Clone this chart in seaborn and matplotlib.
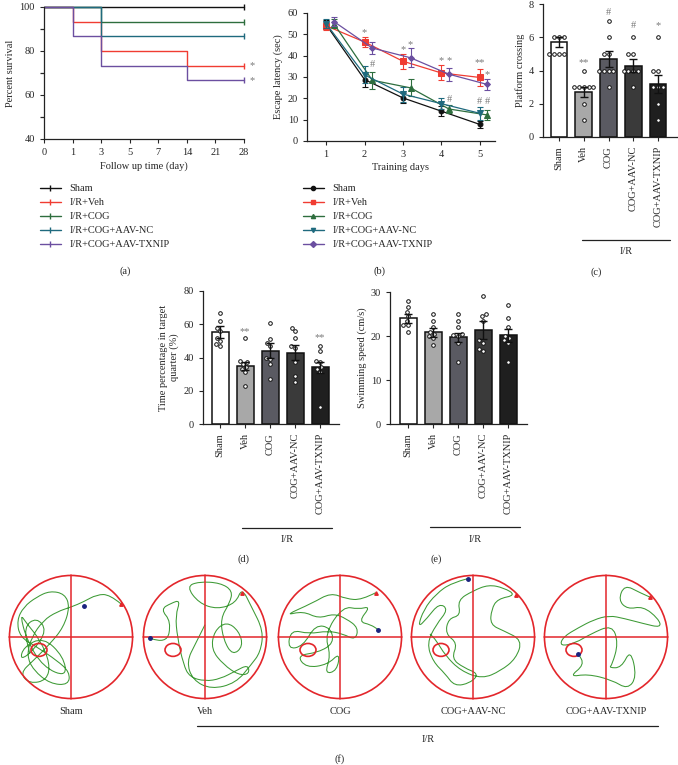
import numpy as np
import pandas as pd
import matplotlib
matplotlib.use("Agg")
import matplotlib.pyplot as plt
from matplotlib.lines import Line2D
from matplotlib.patches import Circle, Ellipse, PathPatch
from matplotlib.path import Path
import seaborn as sns

# ---------------- data ----------------
groups_long = ['Sham', 'I/R+Veh', 'I/R+COG', 'I/R+COG+AAV-NC', 'I/R+COG+AAV-TXNIP']
groups = ['Sham', 'Veh', 'COG', 'COG+AAV-NC', 'COG+AAV-TXNIP']
line_colors = ['#111111', '#f03c32', '#2e6e3e', '#1f6a7e', '#6b4fa0']
bar_colors = ['#ffffff', '#a8a8a8', '#595963', '#3a3a3a', '#1f1f1f']

# (a) survival
day_ticks = [0, 1, 3, 5, 7, 14, 21, 28]
surv_days = [[0, 28], [0, 1, 3, 14, 28], [0, 3, 28], [0, 3, 28], [0, 1, 3, 14, 28]]
surv_vals = [[100, 100], [100, 93.3, 80, 73.3, 73.3], [100, 93.3, 93.3],
             [100, 86.7, 86.7], [100, 86.7, 73.3, 66.7, 66.7]]

# (b) escape latency
train_days = [1, 2, 3, 4, 5]
day_shift = [0, 0, 0.2, 0, 0.2]
latency = [[54.5, 28.8, 20.2, 14.0, 7.8],
           [54.0, 46.4, 37.4, 31.9, 29.8],
           [55.0, 28.5, 24.9, 15.0, 12.2],
           [55.0, 31.0, 22.0, 17.5, 13.0],
           [56.0, 43.6, 39.0, 31.3, 26.5]]
latency_sem = [[2.0, 3.5, 2.5, 2.5, 1.5],
               [2.0, 2.5, 3.5, 3.5, 4.0],
               [2.0, 4.0, 4.0, 2.0, 2.5],
               [2.0, 4.0, 3.5, 2.5, 3.0],
               [2.0, 3.0, 4.5, 3.0, 2.5]]
latency_marks = [(2, 50.6, '*'), (2.2, 35.8, '#'), (3, 42.8, '*'), (3.2, 45, '*'),
                 (4, 37.8, '*'), (4.2, 37.5, '*'), (4.2, 19.5, '#'),
                 (5, 36.8, '**'), (5.2, 31.3, '*'), (5, 18.7, '#'), (5.2, 18.7, '#')]

# (c) platform crossing
cross_mean = [5.7, 2.7, 4.7, 4.3, 3.2]
cross_sem = [0.3, 0.3, 0.5, 0.4, 0.55]
cross_pts = [[6, 6, 6, 5, 5, 5, 5],
             [4, 3, 3, 3, 3, 3, 2, 1],
             [7, 6, 5, 5, 4, 4, 4, 4, 3],
             [6, 5, 5, 4, 4, 4, 4, 3],
             [6, 4, 4, 3, 3, 3, 2, 1]]
cross_marks = ['', '**', '#', '#', '*']
cross_mark_y = [0, 4.5, 7.5, 6.7, 6.7]

# (d) time in target quarter
quarter_mean = [55.5, 35.0, 44.0, 43.0, 34.0]
quarter_sem = [3.5, 2.5, 4.5, 4.5, 3.5]
quarter_pts = [[67, 62, 58, 56, 52, 50, 48, 47],
               [52, 38, 37, 36, 34, 33, 31, 23],
               [61, 51, 49, 47, 40, 39, 36, 27],
               [58, 56, 52, 47, 46, 37, 29, 25],
               [47, 44, 38, 37, 34, 33, 31, 10]]
quarter_marks = ['', '**', '', '', '**']
quarter_mark_y = [0, 55.8, 0, 0, 51.8]

# (e) swimming speed
speed_mean = [24.0, 20.8, 19.7, 21.4, 20.2]
speed_sem = [1.0, 1.0, 1.0, 2.0, 1.5]
speed_pts = [[28, 26.5, 25.5, 24.5, 23.5, 22.5, 22.5, 21],
             [25, 23.5, 22, 21, 20.5, 20, 19.5, 18],
             [25, 23.5, 22, 20.5, 20.3, 20, 18.5, 14],
             [29, 25, 24.5, 23.5, 19, 18.5, 17, 16.5],
             [27, 24, 22, 20, 19.5, 19, 18.5, 14]]

# (f) swim paths (normalised to pool radius)
path_sham = [(0.81, 0.54), (0.63, 0.69), (0.42, 0.69), (0.2, 0.57), (0.01, 0.49), (-0.23, 0.41),
             (-0.45, 0.27), (-0.64, 0), (-0.72, -0.3), (-0.61, -0.54), (-0.34, -0.76), (-0.04, -0.78),
             (-0.02, -0.57), (-0.23, -0.38), (-0.56, -0.16), (-0.83, 0), (-0.88, 0.27), (-0.77, 0.49),
             (-0.56, 0.65), (-0.34, 0.75), (-0.1, 0.7), (-0.02, 0.49), (-0.12, 0.16), (-0.34, -0.11),
             (-0.61, -0.38), (-0.83, -0.59), (-0.67, -0.76), (-0.39, -0.7), (-0.34, -0.43), (-0.5, -0.05),
             (-0.72, 0.22), (-0.83, 0.38), (-0.72, -0.05), (-0.45, -0.49), (-0.07, -0.65), (-0.12, -0.32),
             (-0.45, 0), (-0.77, -0.16), (-0.83, -0.38), (-0.61, -0.22), (-0.39, 0.11), (-0.56, 0.32),
             (-0.77, 0.16), (-0.67, -0.27)]
path_veh = [(-0.89, -0.02), (-0.62, -0.12), (-0.55, 0.25), (-0.72, 0.45), (-0.55, 0.55), (-0.4, 0.6),
            (-0.48, 0.35), (-0.45, 0.0), (-0.35, -0.45), (-0.25, -0.65), (0.0, -0.72), (0.25, -0.68),
            (0.5, -0.55), (0.7, -0.45), (0.72, -0.6), (0.55, -0.62), (0.3, -0.45), (0.1, -0.2),
            (0.15, 0.1), (0.35, 0.25), (0.55, 0.1), (0.62, -0.15), (0.45, -0.3), (0.3, -0.05),
            (0.25, 0.3), (0.4, 0.55), (0.45, 0.75), (0.25, 0.88), (-0.1, 0.9), (-0.3, 0.82),
            (-0.1, 0.55), (0.2, 0.45), (0.5, 0.55), (0.6, 0.8), (0.75, 0.5), (0.95, 0.1),
            (0.9, -0.25), (0.75, -0.45), (0.5, -0.75), (0.1, -0.85), (-0.2, -0.7), (-0.3, -0.4),
            (-0.15, -0.1), (0.0, 0.2)]
path_cog = [(0.58, 0.72), (0.35, 0.6), (0.1, 0.62), (-0.15, 0.72), (-0.45, 0.55), (-0.9, 0.35),
            (-0.6, 0.42), (-0.35, 0.3), (-0.1, 0.38), (0.1, 0.3), (0.3, 0.15), (0.25, -0.05),
            (0.05, 0.05), (-0.2, 0.1), (-0.5, 0.05), (-0.8, 0.12), (-0.85, -0.2), (-0.6, -0.15),
            (-0.4, 0.2), (-0.15, 0.15), (-0.1, -0.1), (-0.35, -0.25), (-0.7, -0.3), (-0.55, -0.5),
            (-0.2, -0.45), (0.0, -0.25), (-0.05, -0.55), (-0.25, -0.6), (-0.15, -0.3), (-0.25, 0.05),
            (0.05, 0.5), (0.3, 0.45), (0.5, 0.5), (0.3, 0.25), (0.5, 0.2), (0.62, 0.12)]
path_nc = [(-0.08, 0.95), (-0.35, 0.88), (-0.6, 0.7), (-0.8, 0.45), (-0.9, 0.15), (-0.75, 0.3),
           (-0.55, 0.55), (-0.4, 0.45), (-0.6, 0.2), (-0.75, -0.1), (-0.65, -0.4), (-0.45, -0.6),
           (-0.3, -0.8), (-0.05, -0.75), (0.1, -0.6), (-0.15, -0.5), (-0.35, -0.35), (-0.25, -0.1),
           (-0.45, 0.05), (-0.4, 0.3), (-0.2, 0.35), (-0.25, 0.6), (0.0, 0.75), (0.25, 0.85),
           (0.5, 0.8), (0.7, 0.68), (0.4, 0.62), (0.3, 0.45), (0.28, 0.2), (0.5, 0.1),
           (0.8, -0.05), (0.7, -0.35), (0.45, -0.55), (0.15, -0.68), (-0.2, -0.55), (-0.45, -0.3),
           (-0.6, -0.05), (-0.7, 0.05)]
path_txnip = [(0.71, 0.65), (0.55, 0.72), (0.3, 0.85), (0.2, 0.6), (0.35, 0.45), (0.6, 0.5),
              (0.85, 0.3), (0.9, 0.15), (0.6, 0.22), (0.3, 0.3), (0.05, 0.35), (-0.2, 0.28),
              (-0.45, 0.15), (-0.7, 0.0), (-0.75, -0.15), (-0.5, -0.1), (-0.25, 0.05), (0.1, 0.2),
              (0.2, -0.1), (0.1, -0.45), (0.05, -0.5), (0.25, -0.5), (0.4, -0.2), (0.5, -0.65),
              (0.35, -0.85), (0.1, -0.7), (-0.3, -0.6), (-0.6, -0.65), (-0.35, -0.45), (-0.45, -0.27)]
paths = [path_sham, path_veh, path_cog, path_nc, path_txnip]
blue_dots = [(0.21, 0.5), (-0.89, -0.02), (0.62, 0.12), (-0.08, 0.95), (-0.45, -0.27)]
red_marks = [(0.81, 0.54), (0.6, 0.72), (0.58, 0.72), (0.7, 0.68), (0.71, 0.65)]

# ---------------- style ----------------
sns.set_style('ticks')
plt.rcParams['font.family'] = ['Liberation Serif', 'DejaVu Serif']
plt.rcParams['font.size'] = 7.5
plt.rcParams['axes.linewidth'] = 0.9
plt.rcParams['axes.edgecolor'] = '#222222'
plt.rcParams['xtick.major.size'] = 3
plt.rcParams['ytick.major.size'] = 3
plt.rcParams['xtick.labelsize'] = 7.5
plt.rcParams['ytick.labelsize'] = 7.5

W, H = 678, 765
fig = plt.figure(figsize=(W / 100, H / 100), dpi=100)
mark_gray = '#7a7a7a'


def add_ax(left, top, right, bottom):
    return fig.add_axes([left / W, 1 - bottom / H, (right - left) / W, (bottom - top) / H])


def fig_text(x, y, s, **kw):
    fig.text(x / W, 1 - y / H, s, ha='center', va='center', **kw)


def fig_hline(x0, x1, y):
    fig.add_artist(Line2D([x0 / W, x1 / W], [1 - y / H, 1 - y / H], transform=fig.transFigure,
                          color='#222222', lw=0.9))


def smooth_path(pts):
    # waypoints used as quadratic bezier control points, curve passes through midpoints
    verts = [pts[0]]
    codes = [Path.MOVETO]
    for i in range(1, len(pts) - 1):
        mid = ((pts[i][0] + pts[i + 1][0]) / 2, (pts[i][1] + pts[i + 1][1]) / 2)
        verts += [pts[i], mid]
        codes += [Path.CURVE3, Path.CURVE3]
    verts.append(pts[-1])
    codes.append(Path.LINETO)
    return Path(verts, codes)


# ---------------- (a) ----------------
ax = add_ax(44, 7, 244, 139)
for name, days, vals, c in zip(groups_long, surv_days, surv_vals, line_colors):
    xs = [day_ticks.index(d) for d in days]
    sns.lineplot(x=xs, y=vals, drawstyle='steps-post', color=c, lw=1.0, ax=ax,
                 estimator=None, sort=False, clip_on=False)
    ax.plot([7], [vals[-1]], marker='|', color=c, markersize=5, clip_on=False)
ax.set_xlim(0, 7)
ax.set_ylim(40, 100)
ax.set_xticks(range(len(day_ticks)))
ax.set_xticklabels(day_ticks)
ax.set_yticks([40, 60, 80, 100])
ax.set_yticks([50, 70, 90], minor=True)
ax.tick_params(which='minor', length=3, width=0.9)
ax.set_xlabel('Follow up time (day)', labelpad=3)
ax.set_ylabel('Percent survival', labelpad=3)
ax.text(7.2, 73.3, '*', color=mark_gray, ha='left', va='center')
ax.text(7.2, 66.7, '*', color=mark_gray, ha='left', va='center')
sns.despine(ax=ax)
handles = [Line2D([], [], color=c, lw=1.0, marker='|', markersize=4) for c in line_colors]
fig.legend(handles, groups_long, loc='upper left', bbox_to_anchor=(40 / W, 1 - 184 / H),
           frameon=False, handlelength=2.0, handletextpad=0.8, labelspacing=0.45,
           borderpad=0, borderaxespad=0, fontsize=7.5)
fig_text(125, 271, '(a)')

# ---------------- (b) ----------------
ax = add_ax(307, 13, 495, 141)
markers = ['o', 's', '^', 'v', 'D']
msizes = [3.5, 4, 4, 4, 3]
for i in range(5):
    xs = [d + day_shift[i] for d in train_days]
    sns.lineplot(x=xs, y=latency[i], color=line_colors[i], lw=0.9, marker=markers[i],
                 markersize=msizes[i], markeredgecolor=line_colors[i], ax=ax, estimator=None)
    ax.errorbar(xs, latency[i], yerr=latency_sem[i], fmt='none', ecolor=line_colors[i],
                elinewidth=0.8, capsize=2, capthick=0.8)
for x, y, s in latency_marks:
    ax.text(x, y, s, color=mark_gray, ha='center', va='center', fontsize=7.5)
ax.set_xlim(0.5, 5.4)
ax.set_ylim(0, 60)
ax.set_xticks(train_days)
ax.set_yticks(range(0, 61, 10))
ax.set_xlabel('Training days', labelpad=3)
ax.set_ylabel('Escape latency (sec)', labelpad=3)
sns.despine(ax=ax)
handles = [Line2D([], [], color=c, lw=1.0, marker=m, markersize=3) for c, m in zip(line_colors, markers)]
fig.legend(handles, groups_long, loc='upper left', bbox_to_anchor=(303 / W, 1 - 184 / H),
           frameon=False, handlelength=2.0, handletextpad=0.8, labelspacing=0.45,
           borderpad=0, borderaxespad=0, fontsize=7.5)
fig_text(379, 271, '(b)')


# ---------------- bar panels ----------------
def bar_panel(ax, means, sems, pts, ylim, yticks, ylabel, marks=None, mark_y=None):
    sns.barplot(x=groups, y=means, hue=groups, palette=bar_colors, legend=False,
                edgecolor='#111111', linewidth=1.1, width=0.68, errorbar=None, ax=ax)
    df = pd.DataFrame({'group': [g for g, p in zip(groups, pts) for _ in p],
                       'value': [v for p in pts for v in p]})
    sns.swarmplot(data=df, x='group', y='value', order=groups, color='white', edgecolor='#111111',
                  linewidth=0.7, size=2.6, ax=ax, zorder=4)
    ax.errorbar(range(5), means, yerr=sems, fmt='none', ecolor='#111111', elinewidth=1.0,
                capsize=3, capthick=1.0, zorder=5)
    if marks:
        for i, (s, y) in enumerate(zip(marks, mark_y)):
            if s:
                ax.text(i, y, s, color=mark_gray, ha='center', va='center', fontsize=7.5)
    ax.set_ylim(*ylim)
    ax.set_yticks(yticks)
    ax.set_xlabel('')
    ax.set_ylabel(ylabel, labelpad=3)
    ax.tick_params(axis='x', rotation=90)
    sns.despine(ax=ax)


ax = add_ax(543, 4, 677, 137)
bar_panel(ax, cross_mean, cross_sem, cross_pts, (0, 8), [0, 2, 4, 6, 8], 'Platform crossing',
          cross_marks, cross_mark_y)
ax.set_xlim(-0.65, 4.77)
fig_hline(582, 670, 240)
fig_text(626, 251, 'I/R')
fig_text(596, 272, '(c)')

ax = add_ax(203, 291, 339, 424)
bar_panel(ax, quarter_mean, quarter_sem, quarter_pts, (0, 80), [0, 20, 40, 60, 80],
          'Time percentage in target\nquarter (%)', quarter_marks, quarter_mark_y)
ax.set_xlim(-0.68, 4.76)
fig_hline(242, 332, 528)
fig_text(287, 539, 'I/R')
fig_text(243, 559, '(d)')

ax = add_ax(390, 292, 527, 424)
bar_panel(ax, speed_mean, speed_sem, speed_pts, (0, 30), [0, 10, 20, 30], 'Swimming speed (cm/s)')
ax.set_xlim(-0.72, 4.76)
fig_hline(430, 520, 527)
fig_text(475, 539, 'I/R')
fig_text(436, 559, '(e)')

# ---------------- (f) ----------------
red = '#e3262b'
centers = [71, 205, 340, 473, 606]
for cx, name, path, bd, rm in zip(centers, groups, paths, blue_dots, red_marks):
    r = 62
    ax = add_ax(cx - r - 2, 637 - r - 2, cx + r + 2, 637 + r + 2)
    ax.set_xlim(-1.04, 1.04)
    ax.set_ylim(-1.04, 1.04)
    ax.set_aspect('equal')
    ax.axis('off')
    ax.add_patch(PathPatch(smooth_path(path), fill=False, edgecolor='#3d9a35', lw=0.75, zorder=2))
    ax.add_patch(Circle((0, 0), 1, fill=False, edgecolor=red, lw=1.2, zorder=3))
    ax.plot([-1, 1], [0, 0], color=red, lw=1.1, zorder=3)
    ax.plot([0, 0], [-1, 1], color=red, lw=1.1, zorder=3)
    ax.add_patch(Ellipse((-0.52, -0.21), 0.26, 0.21, fill=False, edgecolor=red, lw=1.2, zorder=3))
    ax.plot([bd[0]], [bd[1]], 'o', color='#1a237e', markersize=2.5, zorder=4)
    ax.plot([rm[0]], [rm[1]], '^', color=red, markersize=2.5, zorder=4)
    fig_text(cx, 712, name)
fig_hline(197, 658, 726)
fig_text(428, 740, 'I/R')
fig_text(340, 759, '(f)')

fig.savefig('out.png', dpi=100)
